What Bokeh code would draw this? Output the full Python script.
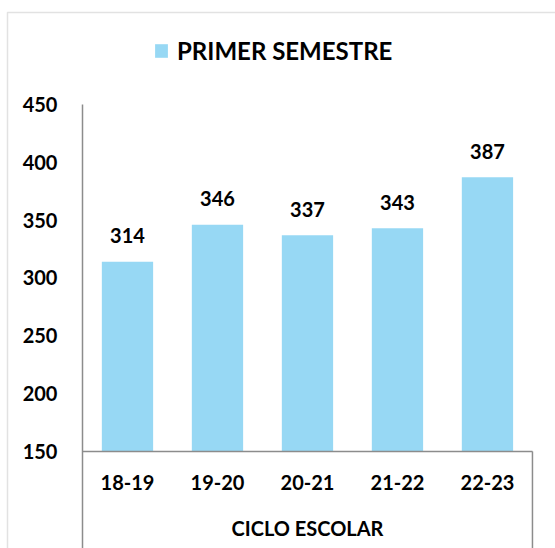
from bokeh.plotting import figure
from bokeh.models import (Range1d, FixedTicker, Legend, LegendItem,
                          BoxAnnotation, ColumnDataSource)
from bokeh.core.properties import value
from bokeh.embed import file_html
from bokeh.resources import INLINE

cycles = ["18-19", "19-20", "20-21", "21-22", "22-23"]
students = [314, 346, 337, 343, 387]
y_ticks = [150, 200, 250, 300, 350, 400, 450]
series_name = "PRIMER SEMESTRE"
x_title = "CICLO ESCOLAR"

BAR = "#97D8F4"
AXIS = "#8C8C8C"
FONT = "Lato"

# category slots 0..N on a numeric scale
xs = [i + 0.5 for i in range(len(cycles))]
n = len(cycles)

W, H = 555, 548
p = figure(width=W, height=H, output_backend="svg", toolbar_location=None,
           x_range=Range1d(-0.911, n + 0.256), y_range=Range1d(66.1, 539.9),
           min_border=0)
p.outline_line_color = None
p.grid.visible = False
p.background_fill_color = "white"
p.border_fill_color = "white"

src = ColumnDataSource(dict(x=xs, top=students, lab=[str(v) for v in students]))
bars = p.vbar(x="x", top="top", bottom=y_ticks[0], width=0.57, source=src,
              fill_color=BAR, line_color=None)
p.text(x="x", y="top", text="lab", source=src, text_align="center",
       text_baseline="alphabetic", y_offset=-26, text_font=value(FONT),
       text_font_style="bold", text_font_size="20px", text_color="black")

# separator line at right end, below category axis
p.segment(x0=[n], y0=[p.y_range.start], x1=[n], y1=[y_ticks[0]],
          line_color=AXIS, line_width=1.5)

ya = p.yaxis[0]
ya.fixed_location = 0
ya.bounds = (p.y_range.start, y_ticks[-1])
ya.ticker = FixedTicker(ticks=y_ticks)
ya.axis_line_color = AXIS
ya.axis_line_width = 1.5
ya.major_tick_line_color = None
ya.minor_tick_line_color = None
ya.major_label_standoff = 19
ya.major_label_text_font = FONT
ya.major_label_text_font_style = "bold"
ya.major_label_text_font_size = "20px"
ya.major_label_text_color = "black"

xa = p.xaxis[0]
xa.fixed_location = y_ticks[0]
xa.bounds = (0, n)
xa.ticker = FixedTicker(ticks=xs)
xa.major_label_overrides = {x: c for x, c in zip(xs, cycles)}
xa.axis_line_color = AXIS
xa.axis_line_width = 1.5
xa.major_tick_line_color = None
xa.minor_tick_line_color = None
xa.major_label_standoff = 18
xa.major_label_text_font = FONT
xa.major_label_text_font_style = "bold"
xa.major_label_text_font_size = "20px"
xa.major_label_text_color = "black"
xa.axis_label = x_title
xa.axis_label_standoff = 22
xa.axis_label_text_font = FONT
xa.axis_label_text_font_style = "bold"
xa.axis_label_text_font_size = "20px"
xa.axis_label_text_color = "black"

legend = Legend(items=[LegendItem(label=series_name, renderers=[bars])],
                location=(153, 483), orientation="horizontal",
                glyph_width=16, glyph_height=17, label_standoff=8,
                padding=0, margin=0, spacing=0,
                border_line_color=None, background_fill_alpha=0,
                label_text_font=FONT, label_text_font_style="bold",
                label_text_font_size="24px", label_text_color="black")
p.add_layout(legend)

p.add_layout(BoxAnnotation(left=7, right=W + 20, top=12, bottom=H + 20,
                           left_units="canvas", right_units="canvas",
                           top_units="canvas", bottom_units="canvas",
                           fill_alpha=0, line_color="#A0A0A0", line_width=1.5))

open("out.html", "w").write(file_html(p, INLINE))
